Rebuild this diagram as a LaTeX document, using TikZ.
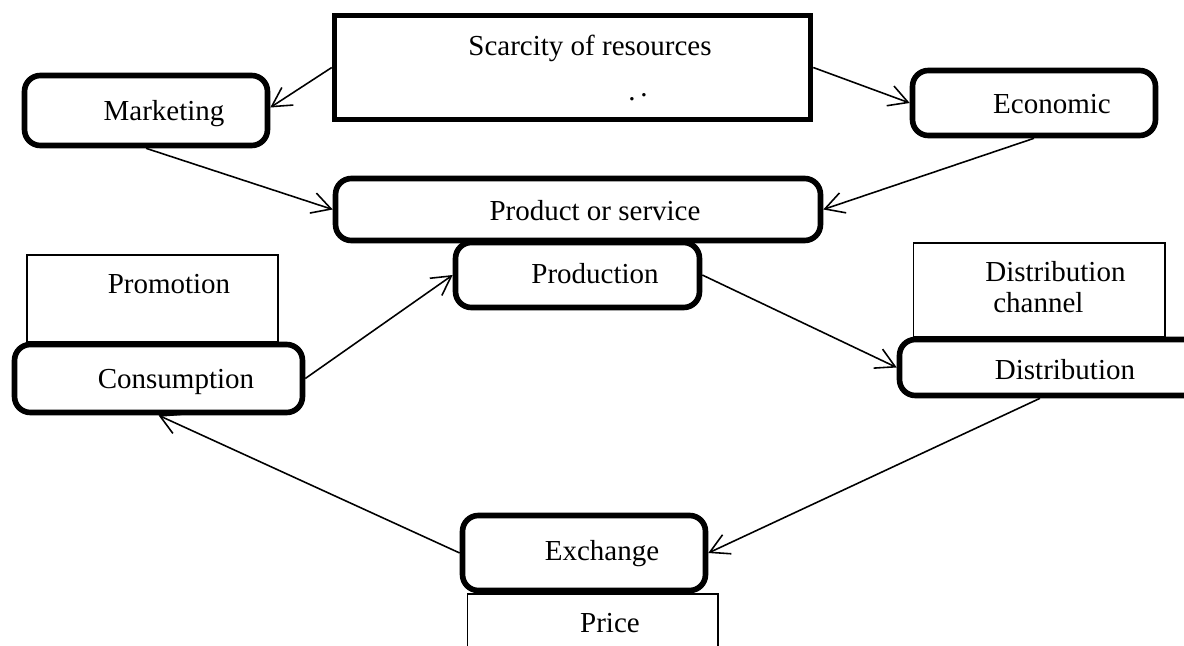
\documentclass[tikz,border=0pt]{standalone}
\usepackage{fontspec}
\setmainfont{Liberation Serif}
\usetikzlibrary{arrows.meta}
\tikzset{rbox/.style = {draw, line width=3.2pt, rounded corners=9pt, fill=white, inner sep=0}}
\tikzset{sbox/.style = {draw, line width=3.2pt, fill=white, inner sep=0}}
\tikzset{tbox/.style = {draw, line width=0.6pt, fill=white, inner sep=0}}
\tikzset{txt/.style = {anchor=base, inner sep=0, font=\fontsize{16.5}{19}\selectfont}}
\tikzset{arr/.style = {-{Straight Barb[length=0.38cm,width=0.42cm]}, line width=0.9pt}}

\begin{document}
\begin{tikzpicture}[x=0.02cm, y=-0.02cm]
        \clip (0,0) rectangle (1184,646);
        \fill [white] (0,0) rectangle (1184,646);
        % boxes
        \node [sbox, minimum width=9.52cm, minimum height=2.08cm] (scar) at (572.5,67.5) {};
        \node [rbox, minimum width=4.86cm, minimum height=1.40cm] (mkt) at (146,110.5) {};
        \node [rbox, minimum width=4.86cm, minimum height=1.30cm] (eco) at (1034,103) {};
        \node [rbox, minimum width=9.70cm, minimum height=1.24cm] (prod) at (578,209.5) {};
        \node [rbox, minimum width=4.88cm, minimum height=1.30cm] (pdn) at (577.5,275) {};
        \node [tbox, minimum width=5.02cm, minimum height=1.74cm] (promo) at (152.5,298.5) {};
        \node [rbox, minimum width=5.76cm, minimum height=1.36cm] (cons) at (158.5,378.5) {};
        \node [tbox, minimum width=5.04cm, minimum height=1.88cm] (dch) at (1039,290) {};
        \node [rbox, minimum width=6.10cm, minimum height=1.12cm] (dist) at (1052,367.5) {};
        \node [rbox, minimum width=4.86cm, minimum height=1.50cm] (exch) at (584,553) {};
        \node [tbox, minimum width=5.02cm, minimum height=1.32cm] (price) at (592.5,627) {};
        % texts
        \node [txt] (scar-t) at (590,55) {Scarcity of resources};
        \node [txt] (dots) at (638,100) {.\,\raisebox{2pt}{.}};
        \node [txt] (mkt-t) at (164,120) {Marketing};
        \node [txt] (eco-t) at (1052,113) {Economic};
        \node [txt] (prod-t) at (595,220) {Product or service};
        \node [txt] (pdn-t) at (595,283) {Production};
        \node [txt] (promo-t) at (169,293) {Promotion};
        \node [txt] (cons-t) at (176,388) {Consumption};
        \node [txt, anchor=base west] (dch-t1) at (985,281) {Distribution};
        \node [txt, anchor=base west] (dch-t2) at (993,312) {channel};
        \node [txt] (dist-t) at (1065,379) {Distribution};
        \node [txt] (exch-t) at (602,560) {Exchange};
        \node [txt] (price-t) at (610,632) {Price};
        % arrows
        \draw [arr] (scar.west) -- ([yshift=0.06cm]mkt.east);
        \draw [arr] (scar.east) -- (eco.west);
        \draw [arr] (mkt.south) -- (prod.west);
        \draw [arr] (eco.south) -- (prod.east);
        \draw [arr] (pdn.east) -- (dist.west);
        \draw [arr] ([xshift=-0.24cm]dist.south) -- (exch.east);
        \draw [arr] (exch.west) -- (cons.south);
        \draw [arr] (cons.east) -- (pdn.west);
    \end{tikzpicture}
\end{document}
